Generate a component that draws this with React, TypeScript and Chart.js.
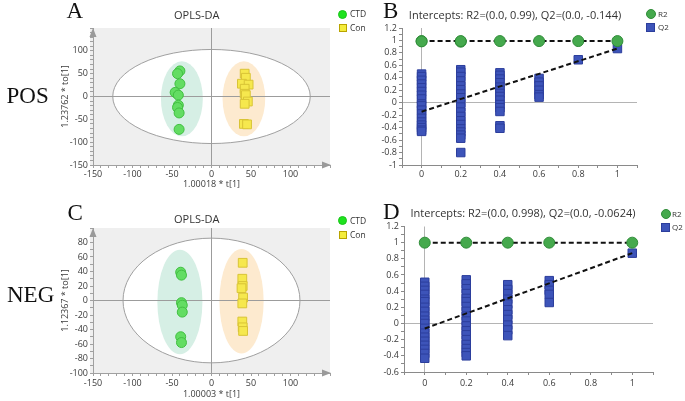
import React, { useEffect, useRef } from "react";
import { Chart, registerables } from "chart.js";

Chart.register(...registerables);

const FONT = "'Open Sans', 'Noto Sans', sans-serif";
const SERIF = "'Liberation Serif', 'DejaVu Serif', serif";

// ---------- names ----------
const scoreGroups = ["CTD", "Con"];
const permSeries = ["R2", "Q2"];
const scoreTitle = "OPLS-DA";
const posPermTitle = "Intercepts: R2=(0.0, 0.99), Q2=(0.0, -0.144)";
const negPermTitle = "Intercepts: R2=(0.0, 0.998), Q2=(0.0, -0.0624)";

// ---------- Panel A: POS OPLS-DA scores ----------
const posCtdT = [-40, -43, -40, -46, -42, -42, -43, -41, -41];
const posCtdTo = [56, 50, 28, 9, 3, -19, -24, -36, -72];
const posConT = [42, 43.5, 38.5, 47, 42, 42, 43.5, 46, 42, 41, 45];
const posConTo = [50, 41, 28, 26, 17, 6, 3, -11, -16, -60, -61];
const posHotelling = [125, 103];
const posCtdEllipse = [-37.5, -5, 26.5, 82];
const posConEllipse = [41, -5, 27, 82];

// ---------- Panel C: NEG OPLS-DA scores ----------
const negCtdT = [-39, -38, -38, -37, -37, -39, -38];
const negCtdTo = [39, 35, -3, -6.5, -16, -50, -58];
const negConT = [39.5, 39, 39.5, 38, 40, 39, 39, 39.5, 40];
const negConTo = [52, 30, 20, 17, 4, -4, -29, -37, -42];
const negHotelling = [112, 86];
const negCtdEllipse = [-40, -2, 28.5, 72];
const negConEllipse = [38, -1, 28, 72];

// ---------- tick labels ----------
const scoreXTicks = [-150, -100, -50, 0, 50, 100];
const posYTicks = [-150, -100, -50, 0, 50, 100];
const negYTicks = [-100, -80, -60, -40, -20, 0, 20, 40, 60, 80];
const permXTicks = [0, 0.2, 0.4, 0.6, 0.8, 1];
const posPermYTicks = [-1, -0.8, -0.6, -0.4, -0.2, 0, 0.2, 0.4, 0.6, 0.8, 1, 1.2];
const negPermYTicks = [-0.6, -0.4, -0.2, 0, 0.2, 0.4, 0.6, 0.8, 1, 1.2];

// ---------- Panel B: POS permutation test ----------
const posPermX = [0, 0.2, 0.4, 0.6, 0.8, 1];
const posR2 = [[0.99, 0.985], [0.98, 0.99], [0.99], [0.99], [0.99], [0.99]];
const posQ2 = [
  [0.46, 0.42, 0.36, 0.3, 0.24, 0.18, 0.12, 0.06, -0.02, -0.05, -0.12, -0.18, -0.25, -0.31, -0.36, -0.4, -0.44, -0.46],
  [0.53, 0.49, 0.42, 0.35, 0.27, 0.21, 0.14, 0.08, 0.0, -0.07, -0.15, -0.22, -0.29, -0.35, -0.42, -0.47, -0.52, -0.57, -0.8],
  [0.48, 0.44, 0.38, 0.32, 0.25, 0.2, 0.15, 0.1, 0.04, -0.03, -0.08, -0.14, -0.37, -0.41],
  [0.39, 0.33, 0.27, 0.2, 0.13, 0.09],
  [0.69],
  [0.87],
];
const posIntercepts = [0.99, -0.144];

// ---------- Panel D: NEG permutation test ----------
const negPermX = [0, 0.2, 0.4, 0.6, 1];
const negR2 = [[1.0], [1.0], [1.0], [1.0], [1.0]];
const negQ2 = [
  [0.51, 0.46, 0.41, 0.36, 0.3, 0.27, 0.2, 0.15, 0.09, 0.04, 0.0, -0.06, -0.12, -0.17, -0.22, -0.27, -0.32, -0.37, -0.43],
  [0.54, 0.49, 0.43, 0.37, 0.31, 0.27, 0.21, 0.15, 0.09, 0.03, -0.03, -0.09, -0.14, -0.2, -0.26, -0.31, -0.36, -0.4],
  [0.48, 0.42, 0.37, 0.3, 0.24, 0.17, 0.11, 0.05, -0.02, -0.08, -0.15],
  [0.53, 0.48, 0.41, 0.36, 0.26],
  [0.87],
];
const negIntercepts = [0.998, -0.0624];

// ---------- helpers ----------
const near = (a: number, b: number) => Math.abs(a - b) < 1e-6;
const labelFrom = (list: number[]) => (v: any) =>
  list.some((t) => near(t, Number(v))) ? String(Number(Number(v).toFixed(2))) : "";
const zeroGrid = (color: string) => (c: any) =>
  c.tick && near(c.tick.value, 0) ? color : "rgba(0,0,0,0)";

function scoreConfig(o: any) {
  const decor = {
    id: "scoreDecor",
    beforeDraw(chart: any) {
      const { ctx, chartArea: a, scales } = chart;
      const x = scales.x;
      const y = scales.y;
      ctx.save();
      ctx.fillStyle = "#efefef";
      ctx.fillRect(a.left - 3, a.top, a.right - a.left + 3, a.bottom - a.top);
      const ell = (e: number[], fill: string, stroke?: string) => {
        const cx = x.getPixelForValue(e[0]);
        const cy = y.getPixelForValue(e[1]);
        const rx = Math.abs(x.getPixelForValue(e[0] + e[2]) - cx);
        const ry = Math.abs(y.getPixelForValue(e[1] + e[3]) - cy);
        ctx.beginPath();
        ctx.ellipse(cx, cy, rx, ry, 0, 0, Math.PI * 2);
        ctx.fillStyle = fill;
        ctx.fill();
        if (stroke) {
          ctx.strokeStyle = stroke;
          ctx.lineWidth = 1;
          ctx.stroke();
        }
      };
      ell([0, 0, o.hotelling[0], o.hotelling[1]], "#ffffff", "#a0a0a0");
      ell(o.ctdEllipse, "#d6efe5");
      ell(o.conEllipse, "#fdeacf");
      ctx.restore();
    },
    afterDraw(chart: any) {
      const { ctx, chartArea: a } = chart;
      ctx.save();
      ctx.fillStyle = "#9a9a9a";
      ctx.beginPath();
      ctx.moveTo(a.left, a.top);
      ctx.lineTo(a.left - 3.5, a.top + 9);
      ctx.lineTo(a.left + 3.5, a.top + 9);
      ctx.closePath();
      ctx.fill();
      ctx.beginPath();
      ctx.moveTo(a.right + 1, a.bottom);
      ctx.lineTo(a.right - 8, a.bottom - 3.5);
      ctx.lineTo(a.right - 8, a.bottom + 3.5);
      ctx.closePath();
      ctx.fill();
      ctx.restore();
    },
  };
  const tickFont = { family: FONT, size: 9 };
  return {
    type: "scatter",
    data: {
      datasets: [
        {
          label: scoreGroups[0],
          data: o.ctdT.map((t: number, i: number) => ({ x: t, y: o.ctdTo[i] })),
          pointStyle: "circle",
          pointRadius: 5,
          backgroundColor: "#63dd63",
          borderColor: "#41bf41",
          borderWidth: 1,
        },
        {
          label: scoreGroups[1],
          data: o.conT.map((t: number, i: number) => ({ x: t, y: o.conTo[i] })),
          pointStyle: "rect",
          pointRadius: 6.2,
          backgroundColor: "#f6e84e",
          borderColor: "#d9c436",
          borderWidth: 1,
        },
      ],
    },
    options: {
      animation: false,
      responsive: false,
      devicePixelRatio: 1,
      layout: { padding: o.pad },
      plugins: { legend: { display: false }, tooltip: { enabled: false } },
      scales: {
        x: {
          type: "linear",
          min: -150,
          max: 150,
          afterFit: (s: any) => {
            s.height = o.xH;
          },
          ticks: {
            stepSize: 10,
            autoSkip: false,
            maxRotation: 0,
            padding: o.xTickPad,
            color: "#3a3a3a",
            font: tickFont,
            callback: labelFrom(scoreXTicks),
          },
          grid: { color: zeroGrid("#9c9c9c"), tickColor: "#a0a0a0", tickLength: 3 },
          border: { color: "#a0a0a0" },
          title: {
            display: true,
            text: o.xTitle,
            color: "#3a3a3a",
            font: tickFont,
            padding: { top: 0, bottom: o.xTitlePad },
          },
        },
        y: {
          type: "linear",
          min: o.yMin,
          max: o.yMax,
          afterFit: (s: any) => {
            s.width = o.yW;
          },
          ticks: {
            stepSize: 10,
            autoSkip: false,
            padding: 2,
            color: "#3a3a3a",
            font: tickFont,
            callback: labelFrom(o.yTicks),
          },
          grid: { color: zeroGrid("#9c9c9c"), tickColor: "#a0a0a0", tickLength: 3 },
          border: { color: "#a0a0a0" },
          title: {
            display: true,
            text: o.yTitle,
            color: "#3a3a3a",
            font: tickFont,
            padding: { top: o.yTitlePad, bottom: 0 },
          },
        },
      },
    },
    plugins: [decor],
  };
}

function permConfig(o: any) {
  const pts = (xs: number[], groups: number[][]) =>
    xs.flatMap((x, i) => groups[i].map((y) => ({ x, y })));
  const last = o.xs.length - 1;
  const tickFont = { family: FONT, size: 9 };
  const dashed = {
    showLine: true,
    pointRadius: 0,
    borderColor: "#111111",
    borderWidth: 2,
    borderDash: [5, 3],
    tension: 0,
  };
  return {
    type: "scatter",
    data: {
      datasets: [
        {
          label: permSeries[0],
          data: pts(o.xs, o.r2),
          pointStyle: "circle",
          pointRadius: 5.5,
          backgroundColor: "#45a94d",
          borderColor: "#2f8c38",
          borderWidth: 1,
          order: 1,
        },
        {
          label: "R2 fit",
          data: [
            { x: 0, y: o.intercepts[0] },
            { x: o.xs[last], y: o.r2[last][0] },
          ],
          ...dashed,
          order: 2,
        },
        {
          label: "Q2 fit",
          data: [
            { x: 0, y: o.intercepts[1] },
            { x: o.xs[last], y: o.q2[last][0] },
          ],
          ...dashed,
          order: 3,
        },
        {
          label: permSeries[1],
          data: pts(o.xs, o.q2),
          pointStyle: "rect",
          pointRadius: 6,
          backgroundColor: "#3d54b9",
          borderColor: "#2c3e9c",
          borderWidth: 1,
          order: 4,
        },
      ],
    },
    options: {
      animation: false,
      responsive: false,
      devicePixelRatio: 1,
      layout: { padding: o.pad },
      plugins: { legend: { display: false }, tooltip: { enabled: false } },
      scales: {
        x: {
          type: "linear",
          min: -0.1,
          max: 1.1,
          afterFit: (s: any) => {
            s.height = o.xH;
          },
          ticks: {
            stepSize: 0.1,
            autoSkip: false,
            maxRotation: 0,
            padding: o.xTickPad,
            color: "#3a3a3a",
            font: tickFont,
            callback: labelFrom(permXTicks),
          },
          grid: { color: zeroGrid("#b4b4b4"), tickColor: "#8a8a8a", tickLength: 3 },
          border: { color: "#8a8a8a" },
        },
        y: {
          type: "linear",
          min: o.yMin,
          max: o.yMax,
          afterFit: (s: any) => {
            s.width = o.yW;
          },
          ticks: {
            stepSize: 0.1,
            autoSkip: false,
            padding: 2,
            color: "#3a3a3a",
            font: tickFont,
            callback: labelFrom(o.yTicks),
          },
          grid: { color: zeroGrid("#b4b4b4"), tickColor: "#8a8a8a", tickLength: 3 },
          border: { color: "#8a8a8a" },
        },
      },
    },
  };
}

function ChartBox({ left, top, width, height, make }: any) {
  const ref = useRef<HTMLCanvasElement | null>(null);
  useEffect(() => {
    const chart = new Chart(ref.current as HTMLCanvasElement, make());
    return () => chart.destroy();
  }, []);
  return (
    <div style={{ position: "absolute", left, top, width, height }}>
      <canvas ref={ref} width={width} height={height} style={{ width, height, display: "block" }} />
    </div>
  );
}

function Label({ x, y, text, size, family, align = "left", color = "#222" }: any) {
  const h = size * 1.4;
  const style: any = {
    position: "absolute",
    top: y - h / 2,
    height: h,
    lineHeight: `${h}px`,
    fontSize: size,
    fontFamily: family,
    color,
    whiteSpace: "nowrap",
  };
  if (align === "center") {
    style.left = x - 200;
    style.width = 400;
    style.textAlign = "center";
  } else {
    style.left = x;
  }
  return <div style={style}>{text}</div>;
}

function Marker({ x, y, shape, size, fill, stroke }: any) {
  return (
    <div
      style={{
        position: "absolute",
        left: x - size / 2,
        top: y - size / 2,
        width: size,
        height: size,
        boxSizing: "border-box",
        background: fill,
        border: `1px solid ${stroke}`,
        borderRadius: shape === "circle" ? "50%" : 0,
      }}
    />
  );
}

function ScoreLegend({ y }: any) {
  return (
    <>
      <Marker x={342.5} y={y} shape="circle" size={9} fill="#1ee31e" stroke="#19c419" />
      <Label x={350} y={y} text={scoreGroups[0]} size={8.5} family={FONT} color="#333" />
      <Marker x={342.5} y={y + 14} shape="rect" size={8} fill="#f4ec3c" stroke="#b9a400" />
      <Label x={350} y={y + 14} text={scoreGroups[1]} size={8.5} family={FONT} color="#333" />
    </>
  );
}

function PermLegend({ x, y, tx }: any) {
  return (
    <>
      <Marker x={x} y={y} shape="circle" size={10} fill="#45a94d" stroke="#2f8c38" />
      <Label x={tx} y={y} text={permSeries[0]} size={8} family={FONT} color="#333" />
      <Marker x={x} y={y + 13} shape="rect" size={9} fill="#3d54b9" stroke="#2c3e9c" />
      <Label x={tx} y={y + 13} text={permSeries[1]} size={8} family={FONT} color="#333" />
    </>
  );
}

export default function App() {
  return (
    <div
      style={{
        position: "fixed",
        left: 0,
        top: 0,
        width: 685,
        height: 401,
        background: "#fff",
        overflow: "hidden",
      }}
    >
      <ChartBox
        left={0}
        top={0}
        width={340}
        height={200}
        make={() =>
          scoreConfig({
            ctdT: posCtdT,
            ctdTo: posCtdTo,
            conT: posConT,
            conTo: posConTo,
            hotelling: posHotelling,
            ctdEllipse: posCtdEllipse,
            conEllipse: posConEllipse,
            yMin: -150,
            yMax: 150,
            yTicks: posYTicks,
            xTitle: "1.00018 * t[1]",
            yTitle: "1.23762 * to[1]",
            pad: { left: 57, right: 10, top: 28, bottom: 0 },
            xH: 35,
            yW: 36,
            xTickPad: 1,
            xTitlePad: 10,
            yTitlePad: 2.6,
          })
        }
      />
      <ChartBox
        left={0}
        top={200}
        width={340}
        height={201}
        make={() =>
          scoreConfig({
            ctdT: negCtdT,
            ctdTo: negCtdTo,
            conT: negConT,
            conTo: negConTo,
            hotelling: negHotelling,
            ctdEllipse: negCtdEllipse,
            conEllipse: negConEllipse,
            yMin: -100,
            yMax: 100,
            yTicks: negYTicks,
            xTitle: "1.00003 * t[1]",
            yTitle: "1.12367 * to[1]",
            pad: { left: 57, right: 10, top: 28, bottom: 0 },
            xH: 28,
            yW: 36,
            xTickPad: 2,
            xTitlePad: 1.3,
            yTitlePad: 2.6,
          })
        }
      />
      <ChartBox
        left={340}
        top={0}
        width={345}
        height={200}
        make={() =>
          permConfig({
            xs: posPermX,
            r2: posR2,
            q2: posQ2,
            intercepts: posIntercepts,
            yMin: -1,
            yMax: 1.2,
            yTicks: posPermYTicks,
            pad: { left: 32, right: 48, top: 28, bottom: 0 },
            xH: 35,
            yW: 30,
            xTickPad: 1.5,
          })
        }
      />
      <ChartBox
        left={340}
        top={200}
        width={345}
        height={201}
        make={() =>
          permConfig({
            xs: negPermX,
            r2: negR2,
            q2: negQ2,
            intercepts: negIntercepts,
            yMin: -0.6,
            yMax: 1.2,
            yTicks: negPermYTicks,
            pad: { left: 34, right: 32, top: 26.5, bottom: 0 },
            xH: 29,
            yW: 30,
            xTickPad: 2.9,
          })
        }
      />

      <Label x={66.5} y={10.8} text="A" size={23} family={SERIF} color="#111" />
      <Label x={383} y={10.8} text="B" size={23} family={SERIF} color="#111" />
      <Label x={67.5} y={213.3} text="C" size={23} family={SERIF} color="#111" />
      <Label x={383} y={212.5} text="D" size={23} family={SERIF} color="#111" />
      <Label x={6.5} y={95.8} text="POS" size={23} family={SERIF} color="#111" />
      <Label x={7} y={294.8} text="NEG" size={23} family={SERIF} color="#111" />

      <Label x={196.7} y={14.2} text={scoreTitle} size={11} family={FONT} align="center" color="#333" />
      <Label x={196.7} y={219} text={scoreTitle} size={11} family={FONT} align="center" color="#333" />
      <Label x={515} y={14.5} text={posPermTitle} size={11} family={FONT} align="center" color="#333" />
      <Label x={523} y={213} text={negPermTitle} size={11} family={FONT} align="center" color="#333" />

      <ScoreLegend y={14} />
      <ScoreLegend y={220.7} />
      <PermLegend x={650.7} y={14} tx={658} />
      <PermLegend x={665.5} y={214} tx={672} />
    </div>
  );
}
